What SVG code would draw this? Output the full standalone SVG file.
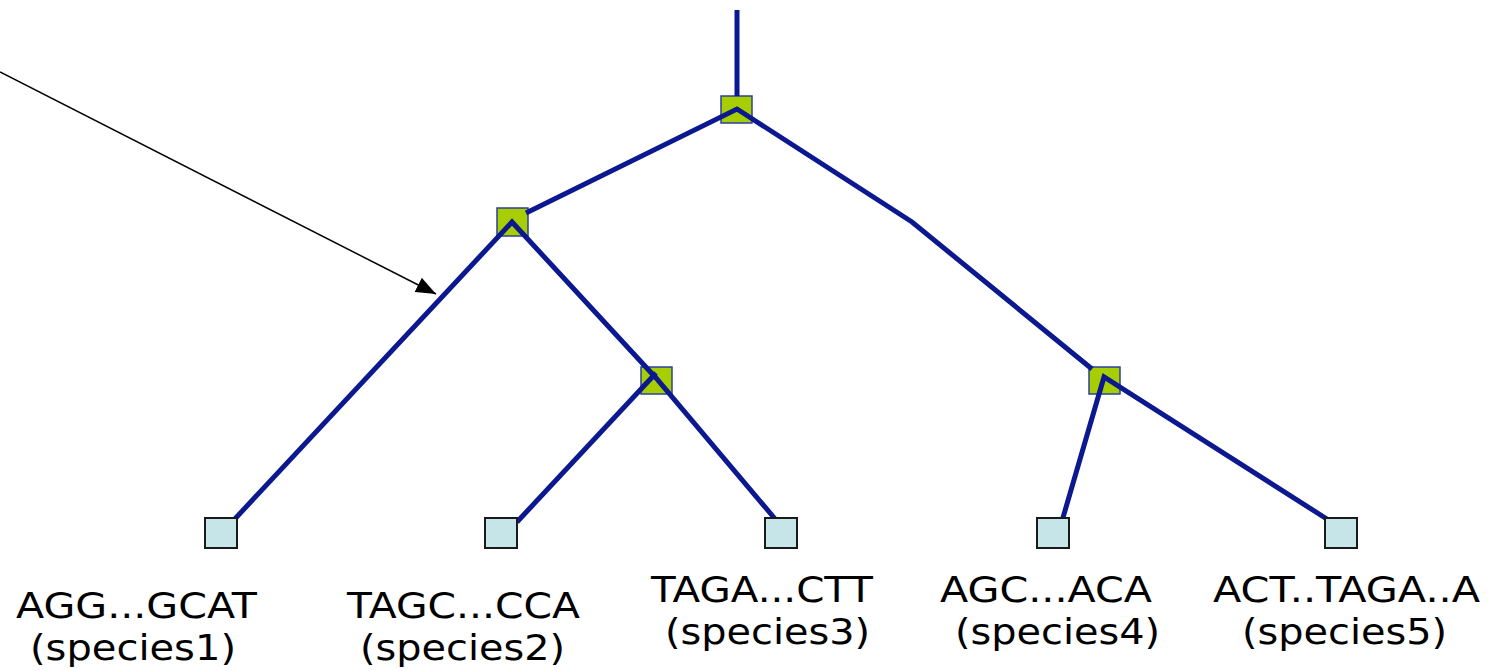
<svg xmlns="http://www.w3.org/2000/svg" width="1503" height="671" viewBox="0 0 1503 671">
<style>
.edge{stroke:#0B1890;stroke-width:5;fill:none;stroke-linejoin:miter}
.inner{fill:#A6CE00;stroke:#2B3FA0;stroke-width:1.5}
.leaf{fill:#C5E5E8;stroke:#1a1a1a;stroke-width:2}
.lbl{font-family:"DejaVu Sans",Verdana,sans-serif;font-size:36px;fill:#000}
</style>
<defs>
<marker id="ah2" viewBox="0 0 20 16" refX="20" refY="8" markerWidth="20" markerHeight="16" orient="auto" markerUnits="userSpaceOnUse">
<path d="M0,0 L20,8 L0,16 Z" fill="#000"/>
</marker>
</defs>
<g id="nodes-under">
<g id="root"><rect class="inner" x="721" y="96" width="31" height="27"/></g>
<g id="nodeA"><rect class="inner" x="497" y="208" width="31" height="28"/></g>
<g id="nodeB"><rect class="inner" x="641" y="367" width="31" height="27"/></g>
<g id="nodeC"><rect class="inner" x="1089" y="367" width="31" height="27"/></g>
</g>
<g id="connectors">
<line class="edge" x1="737" y1="10" x2="737" y2="96"/>
<polyline class="edge" points="526,213 737,109 912,222 1092,369"/>
<polyline class="edge" points="232,522 512,222 656,378 776,520"/>
<polyline class="edge" points="517,522 656,373"/>
<polyline class="edge" points="1062,521 1104,377 1330,521"/>
<line x1="0" y1="72" x2="436" y2="294" stroke="#000" stroke-width="1.5" marker-end="url(#ah2)"/>
</g>
<g id="leaf1"><rect class="leaf" x="205" y="518" width="32" height="30"/>
<text class="lbl" x="16" y="618" textLength="241" lengthAdjust="spacingAndGlyphs">AGG...GCAT</text><text class="lbl" x="30" y="660" textLength="206" lengthAdjust="spacingAndGlyphs">(species1)</text></g>
<g id="leaf2"><rect class="leaf" x="485" y="518" width="32" height="30"/>
<text class="lbl" x="347" y="618" textLength="233" lengthAdjust="spacingAndGlyphs">TAGC...CCA</text><text class="lbl" x="360" y="660" textLength="205" lengthAdjust="spacingAndGlyphs">(species2)</text></g>
<g id="leaf3"><rect class="leaf" x="765" y="518" width="32" height="30"/>
<text class="lbl" x="651" y="602" textLength="222" lengthAdjust="spacingAndGlyphs">TAGA...CTT</text><text class="lbl" x="665" y="644" textLength="205" lengthAdjust="spacingAndGlyphs">(species3)</text></g>
<g id="leaf4"><rect class="leaf" x="1037" y="518" width="32" height="30"/>
<text class="lbl" x="940" y="602" textLength="212" lengthAdjust="spacingAndGlyphs">AGC...ACA</text><text class="lbl" x="955" y="644" textLength="205" lengthAdjust="spacingAndGlyphs">(species4)</text></g>
<g id="leaf5"><rect class="leaf" x="1325" y="518" width="32" height="30"/>
<text class="lbl" x="1213" y="602" textLength="267" lengthAdjust="spacingAndGlyphs">ACT..TAGA..A</text><text class="lbl" x="1242" y="644" textLength="205" lengthAdjust="spacingAndGlyphs">(species5)</text></g>
</svg>
